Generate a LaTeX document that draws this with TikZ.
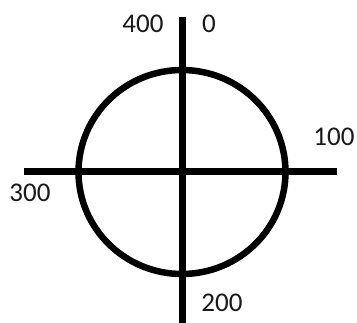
\documentclass[tikz,border=0pt]{standalone}
\usepackage{fontspec}
\setmainfont{Carlito}
\begin{document}
\begin{tikzpicture}[x=1pt, y=-1pt, font=\fontsize{27}{30}\selectfont]
		\tikzset{
			axis/.style={line width=7pt},
			dial/.style={line width=6.5pt},
			mark label/.style={text=black!90, inner sep=0pt}
		}
		\useasboundingbox (0,0) rectangle (357,323);

		% --- end points of the cross ---
		\coordinate (centre) at (182,172);
		\coordinate (top) at (182,17);
		\coordinate (bottom) at (182,323);
		\coordinate (left) at (24,172);
		\coordinate (right) at (337,172);

		% --- circle and cross ---
		\draw[dial] (centre) ellipse [x radius=103.5, y radius=102];
		\draw[axis] (top) -- (bottom);
		\draw[axis] (left) -- (right);

		% --- readings ---
		\node[mark label] (l400) at (143,24)  {400};
		\node[mark label] (l0)   at (209,24)  {0};
		\node[mark label] (l100) at (334,137) {100};
		\node[mark label] (l300) at (30,193)  {300};
		\node[mark label] (l200) at (222,303) {200};
	\end{tikzpicture}
\end{document}
